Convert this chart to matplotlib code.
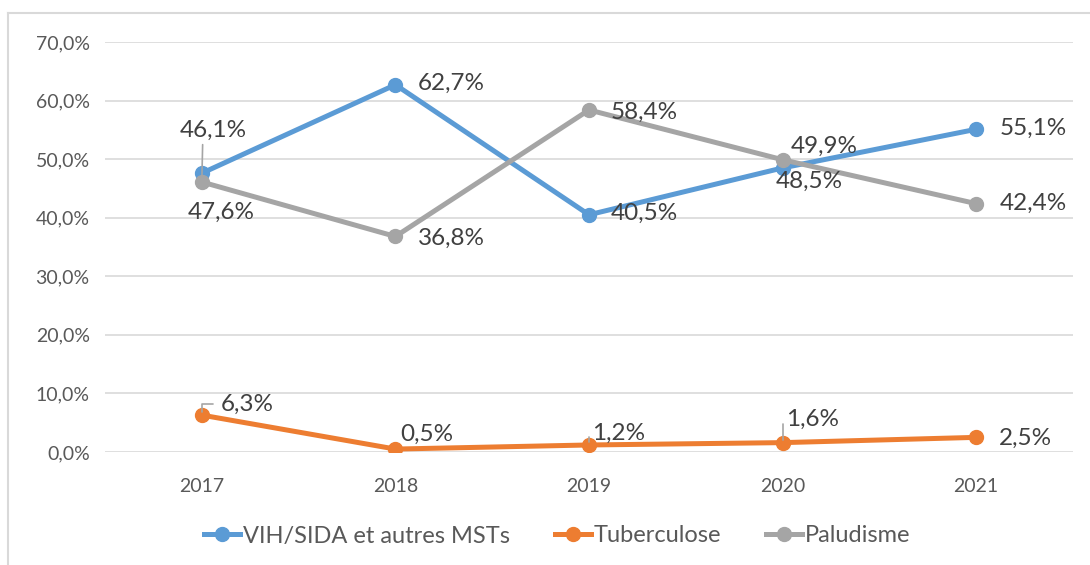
import matplotlib
matplotlib.use("Agg")
import matplotlib.pyplot as plt
from matplotlib.lines import Line2D

years = ["2017", "2018", "2019", "2020", "2021"]
vih = [47.6, 62.7, 40.5, 48.5, 55.1]
tuberculose = [6.3, 0.5, 1.2, 1.6, 2.5]
paludisme = [46.1, 36.8, 58.4, 49.9, 42.4]
series_names = ["VIH/SIDA et autres MSTs", "Tuberculose", "Paludisme"]
y_ticks = [0, 10, 20, 30, 40, 50, 60, 70]

colors = ["#5B9BD5", "#ED7D31", "#A5A5A5"]

# label offsets in pixels (dx right, dy up) and leader style per point
label_offsets = [
    [(19, -39), (56, 1), (55, 1), (27, -13), (57, 1)],
    [(45, 11), (31, 15), (30, 12), (30, 23), (49, -1)],
    [(11, 52), (56, -2), (55, -2), (42, 13), (57, 0)],
]
leaders = [
    [None, None, None, None, None],
    ["elbow", None, "elbow", "elbow", None],
    ["straight", None, None, None, None],
]

plt.rcParams["font.family"] = ["Lato", "DejaVu Sans"]

fig = plt.figure(figsize=(10.9, 5.65), dpi=100)
ax = fig.add_axes([105 / 1090, 1 - 452 / 565, (1073 - 105) / 1090, (452 - 42) / 565])

x = list(range(len(years)))
for vals, name, col in zip([vih, tuberculose, paludisme], series_names, colors):
    ax.plot(x, vals, color=col, lw=3.6, marker="o", ms=10, label=name,
            solid_capstyle="round", zorder=3)

px = 0.72
for si, vals in enumerate([vih, tuberculose, paludisme]):
    for i, v in enumerate(vals):
        dx, dy = label_offsets[si][i]
        txt = f"{v:.1f}%".replace(".", ",")
        kw = {}
        if leaders[si][i] == "elbow":
            kw["arrowprops"] = dict(arrowstyle="-", color="#A5A5A5", lw=1.2,
                                    connectionstyle="angle,angleA=0,angleB=90,rad=0",
                                    relpos=(0, 0.5), shrinkA=3, shrinkB=2)
        elif leaders[si][i] == "straight":
            kw["arrowprops"] = dict(arrowstyle="-", color="#A5A5A5", lw=1.2,
                                    relpos=(0.35, 0), shrinkA=1, shrinkB=2)
        ax.annotate(txt, (i, v), xytext=(dx * px, dy * px), textcoords="offset points",
                    ha="center", va="center", fontsize=17.5, color="#404040", zorder=5, **kw)

ax.set_xlim(-0.5, 4.5)
ax.set_ylim(0, 70)
ax.set_yticks(y_ticks)
ax.set_yticklabels([f"{t:.1f}%".replace(".", ",") for t in y_ticks])
ax.set_xticks(x)
ax.set_xticklabels(years)
ax.tick_params(axis="both", length=0, labelsize=14, colors="#595959")
ax.tick_params(axis="y", pad=11)
ax.tick_params(axis="x", pad=19)
ax.grid(axis="y", color="#D9D9D9", lw=1.2)
ax.set_axisbelow(True)
for s in ax.spines.values():
    s.set_visible(False)

handles = [Line2D([], [], color=c, lw=3.6, marker="o", ms=10) for c in colors]
fig.legend(handles, series_names, loc="center", bbox_to_anchor=(557 / 1090, 1 - 536 / 565),
           ncol=3, frameon=False, fontsize=17, labelcolor="#595959",
           handlelength=1.55, handletextpad=0.1, columnspacing=1.9)

# chart frame (top and left edges visible)
fig.add_artist(Line2D([8 / 1090, 8 / 1090], [0, 1 - 13 / 565], color="#D9D9D9", lw=1.5,
                      transform=fig.transFigure))
fig.add_artist(Line2D([8 / 1090, 1], [1 - 13 / 565, 1 - 13 / 565], color="#D9D9D9", lw=1.5,
                      transform=fig.transFigure))

fig.savefig("out.png", dpi=100)
